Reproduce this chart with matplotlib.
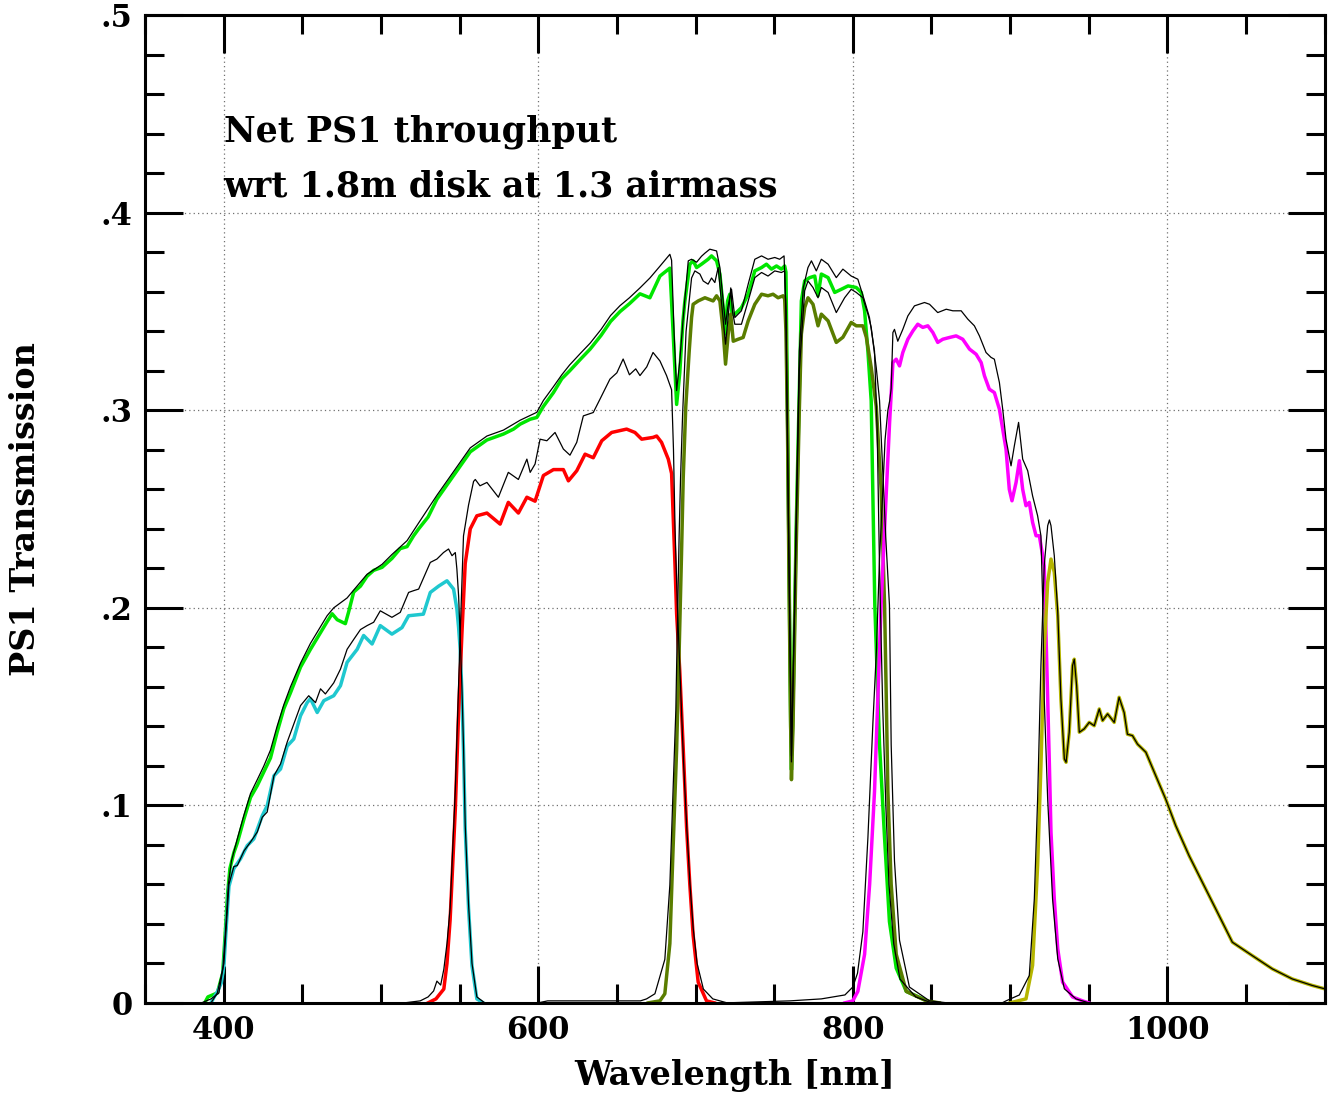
import matplotlib
matplotlib.use("Agg")
import matplotlib.pyplot as plt
from matplotlib.ticker import MultipleLocator, FixedLocator

# ---- data ----
# w band (bright green) and its total (thin black)
w_nm = [388, 390, 396, 399.4, 401, 402.5, 404, 406.5, 408.7, 412.9, 417.1, 421.4, 425.6, 429.8, 434, 438.3,
        442.5, 448.9, 455.2, 460.5, 465.8, 469, 472.2, 477.4, 479.5, 482.7, 487, 491.2, 495.4, 500.7, 507,
        512.3, 516.6, 520.8, 524, 530, 535.6, 546.2, 556.8, 567.4, 577.9, 584.3, 588.5, 594.9, 599.1, 603.3,
        609.7, 615, 620, 627, 633, 640, 646, 652, 658, 664.7, 671, 677.4, 683.7, 685.8, 688, 690, 692,
        693.2, 696.4, 698.5, 700.7, 703.8, 708, 710.2, 713.4, 715.5, 717.6, 718.6, 720.4, 721.8, 723.3, 725,
        729.2, 733.5, 737.7, 742, 745.1, 748.3, 751.5, 754.6, 756.7, 757.5, 758.5, 759.5, 760.5, 761, 762,
        764, 766, 767.3, 769.4, 772.6, 775.8, 777.9, 780, 784.3, 788.5, 792.7, 797, 802.2, 805.4, 807.5,
        809.6, 811.7, 814, 817, 820.2, 823.3, 827.6, 834, 850]
w_T = [0.0, 0.003, 0.005, 0.015, 0.035, 0.055, 0.068, 0.076, 0.081, 0.093, 0.104, 0.110, 0.117, 0.124, 0.137,
       0.149, 0.157, 0.170, 0.179, 0.186, 0.193, 0.197, 0.194, 0.192, 0.198, 0.208, 0.211, 0.216, 0.219,
       0.2205, 0.225, 0.230, 0.231, 0.2365, 0.240, 0.246, 0.255, 0.267, 0.279, 0.285, 0.288, 0.2905, 0.293,
       0.2955, 0.2964, 0.302, 0.309, 0.316, 0.320, 0.326, 0.331, 0.338, 0.345, 0.350, 0.354, 0.359, 0.357,
       0.368, 0.372, 0.339, 0.303, 0.319, 0.345, 0.355, 0.374, 0.3757, 0.3723, 0.374, 0.3765, 0.3782,
       0.3757, 0.369, 0.352, 0.3386, 0.3554, 0.3588, 0.3487, 0.3487, 0.352, 0.3588, 0.3706, 0.3723, 0.374,
       0.3715, 0.3731, 0.3715, 0.3731, 0.37, 0.30, 0.22, 0.14, 0.118, 0.15, 0.24, 0.31, 0.3554, 0.3655,
       0.3672, 0.368, 0.358, 0.369, 0.3672, 0.3597, 0.3613, 0.363, 0.3622, 0.3597, 0.3504, 0.330, 0.3048,
       0.2014, 0.1307, 0.0835, 0.0411, 0.0176, 0.0058, 0.0]

wtot_nm = [386, 392, 397, 399.5, 401.5, 403, 405, 408.7, 412.9, 417.1, 421.4, 425.6, 429.8, 434, 438.3, 442.5,
           448.9, 455.2, 460.5, 465.8, 470, 478.5, 482.7, 491.2, 500.7, 507, 516.6, 524, 535.6, 546.2, 556.8,
           567.4, 577.9, 588.5, 599.1, 603.3, 609.7, 615, 620, 627, 633, 640, 646, 652, 658, 664.7, 671,
           677.4, 683.7, 684.8, 686.4, 688, 690, 692.2, 695.4, 697.5, 700.7, 703.8, 706, 709.1, 713.4, 715.5,
           717.6, 719.1, 720.5, 722.9, 725, 729.2, 733.5, 737.7, 742, 746.1, 750.4, 753.5, 756.3, 757.5, 759,
           761, 763, 766, 768.5, 771.5, 773.7, 776.8, 780, 784.3, 789.5, 793.7, 799, 803.2, 807.5, 810.6,
           813.8, 815.5, 817, 819, 821, 823, 826, 830, 840, 850]
wtot_T = [0.0, 0.002, 0.005, 0.017, 0.04, 0.06, 0.072, 0.083, 0.095, 0.106, 0.113, 0.120, 0.128, 0.140, 0.151,
          0.160, 0.172, 0.182, 0.189, 0.196, 0.200, 0.205, 0.209, 0.217, 0.222, 0.227, 0.234, 0.243, 0.257,
          0.269, 0.281, 0.287, 0.290, 0.295, 0.299, 0.305, 0.312, 0.318, 0.323, 0.329, 0.334, 0.341, 0.348,
          0.353, 0.357, 0.362, 0.367, 0.373, 0.379, 0.376, 0.339, 0.310, 0.325, 0.347, 0.3757, 0.3765, 0.375,
          0.378, 0.3796, 0.3816, 0.3807, 0.3723, 0.3554, 0.3436, 0.352, 0.3613, 0.347, 0.3504, 0.3639,
          0.3765, 0.3782, 0.3765, 0.3774, 0.3765, 0.3782, 0.35, 0.25, 0.125, 0.20, 0.33, 0.362, 0.3723,
          0.3757, 0.3706, 0.3765, 0.374, 0.3672, 0.3715, 0.368, 0.3664, 0.3554, 0.347, 0.33, 0.29, 0.22,
          0.15, 0.10, 0.06, 0.03, 0.012, 0.003, 0.0]

# g band (cyan) and total
g_nm = [392, 394, 396, 398.5, 400.2, 401.8, 403.4, 406.5, 410.8, 415, 419.2, 424.6, 427.7, 432, 436.2, 440.4,
        444.6, 448.9, 453.1, 455.2, 459.5, 463.7, 470, 474.3, 478.5, 484.9, 489, 494.4, 499.6, 507, 513.4,
        517.6, 527, 531.4, 536.7, 542, 546.2, 548.3, 549.4, 550.4, 551.5, 552.5, 553.6, 555.7, 557.9, 561, 565]
g_T = [0.0, 0.003, 0.0056, 0.010, 0.019, 0.040, 0.059, 0.068, 0.073, 0.0796, 0.083, 0.0948, 0.0998, 0.115,
       0.1184, 0.130, 0.1336, 0.1454, 0.152, 0.154, 0.147, 0.153, 0.1555, 0.1606, 0.1724, 0.179, 0.186,
       0.1817, 0.191, 0.1867, 0.190, 0.196, 0.1968, 0.2078, 0.211, 0.2137, 0.2095, 0.1994, 0.19, 0.179,
       0.157, 0.1275, 0.088, 0.048, 0.0187, 0.002, 0.0]

gtot_nm = [392, 396, 400.2, 401.8, 403.4, 406.5, 408.7, 413, 417, 421.4, 424.6, 427.7, 432, 436.2, 440.4, 448.9,
           454.1, 458.4, 461.6, 464.7, 470, 474.3, 478.5, 482.7, 487, 491.2, 495.4, 499.6, 507, 512.3, 517.6,
           520.8, 524, 531.4, 535.6, 539.8, 543, 545.2, 547.3, 548.3, 549.4, 550.4, 551.5, 552.5, 553.6, 555.7,
           557.9, 561, 566]
gtot_T = [0.0, 0.005, 0.020, 0.040, 0.060, 0.069, 0.0695, 0.077, 0.0813, 0.0865, 0.094, 0.0966, 0.115, 0.121,
          0.132, 0.1505, 0.1555, 0.152, 0.159, 0.1564, 0.162, 0.169, 0.179, 0.184, 0.189, 0.191, 0.1927,
          0.1985, 0.1952, 0.1977, 0.2078, 0.2087, 0.2095, 0.223, 0.2247, 0.228, 0.2298, 0.2264, 0.228, 0.2196,
          0.206, 0.185, 0.16, 0.13, 0.09, 0.05, 0.02, 0.003, 0.0]

# r band (red) and total
r_nm = [530, 535, 540, 542, 544, 547.3, 549.4, 551.5, 553.6, 556.8, 561, 567.4, 575.8, 581, 587.4, 592.8, 598,
        603.3, 609.7, 616, 619.2, 624.5, 629.8, 635, 640.4, 646.7, 656.2, 661.5, 665.8, 673, 675.3, 678.4,
        682.7, 684.8, 685.8, 687, 688, 690, 692.2, 694.3, 696.4, 698.5, 701.7, 707, 712]
r_T = [0.0, 0.002, 0.007, 0.020, 0.042, 0.098, 0.147, 0.187, 0.2225, 0.240, 0.2466, 0.248, 0.2424, 0.2534,
       0.248, 0.256, 0.254, 0.267, 0.270, 0.270, 0.2643, 0.2694, 0.2778, 0.276, 0.2846, 0.2888, 0.2905,
       0.2888, 0.2854, 0.2863, 0.287, 0.2838, 0.2753, 0.268, 0.2467, 0.221, 0.197, 0.168, 0.1286, 0.0892,
       0.0597, 0.0342, 0.0105, 0.001, 0.0]

rtot_nm = [515, 525, 530, 533.5, 535.6, 538, 540, 542, 544, 547.3, 550.4, 552.5, 555.7, 558.9, 560, 563, 567.4,
           574.7, 581, 587.4, 592.8, 594.9, 598, 601.2, 605.5, 610.7, 616, 620.2, 624.5, 628.7, 635, 639.3,
           645.6, 650, 654, 658, 662, 664.7, 669, 673, 677.4, 681.6, 684.8, 686, 687, 688.5, 690.5, 692.5,
           694.5, 696.5, 698.5, 701, 705, 711, 720]
rtot_T = [0.0, 0.001, 0.003, 0.006, 0.011, 0.009, 0.017, 0.030, 0.048, 0.108, 0.187, 0.2364, 0.252, 0.264,
          0.265, 0.2618, 0.2635, 0.256, 0.2686, 0.265, 0.2753, 0.2686, 0.2728, 0.2854, 0.2846, 0.2888, 0.2804,
          0.2773, 0.2838, 0.2972, 0.2989, 0.3057, 0.3158, 0.319, 0.326, 0.318, 0.321, 0.3176, 0.322, 0.3293,
          0.325, 0.3176, 0.3104, 0.28, 0.24, 0.20, 0.16, 0.12, 0.088, 0.06, 0.038, 0.02, 0.007, 0.002, 0.0]

# i band (dark olive) and total
i_nm = [670, 677.4, 680.5, 683.7, 685.8, 688, 689.6, 691.1, 692.2, 693.8, 696, 697.5, 698.5, 701.7, 706, 711.2,
        713.4, 715.5, 717.6, 719.1, 720.8, 722.4, 724, 727.1, 730.3, 733.5, 737.7, 742, 746.1, 749.3, 752.5,
        755.7, 756.7, 757.5, 758.5, 759.5, 760.5, 761, 762, 764, 766, 767.3, 769.4, 771.5, 774.7, 777.9, 780,
        784.3, 789.5, 793.7, 799, 802.2, 806.4, 808.6, 811.7, 814.9, 818, 820.2, 821.3, 822.3, 824.4, 827.6,
        834, 846.7, 855]
i_T = [0.0, 0.001, 0.0046, 0.030, 0.0795, 0.1285, 0.178, 0.227, 0.266, 0.3017, 0.330, 0.347, 0.3537, 0.3554,
       0.357, 0.3554, 0.358, 0.3554, 0.340, 0.3234, 0.3386, 0.3487, 0.335, 0.336, 0.3369, 0.3453, 0.3537,
       0.3588, 0.358, 0.3588, 0.357, 0.358, 0.3563, 0.34, 0.29, 0.21, 0.14, 0.113, 0.14, 0.23, 0.30, 0.3386,
       0.352, 0.357, 0.3537, 0.3428, 0.3487, 0.3453, 0.3344, 0.337, 0.3445, 0.3428, 0.3428, 0.337, 0.3217,
       0.302, 0.260, 0.2014, 0.154, 0.107, 0.060, 0.0246, 0.0058, 0.001, 0.0]

itot_nm = [600, 606, 647, 665, 668.9, 674.2, 680.5, 683.7, 685.8, 687.5, 688.3, 689.6, 690.5, 691.8, 694, 697.5,
           699.6, 702.8, 704.9, 708, 710.2, 712.3, 714.4, 716.5, 719.1, 720.5, 722.4, 723.5, 725, 729.2, 733.5,
           737.7, 742, 746.1, 750.4, 754.6, 756.7, 757.5, 759, 761, 763, 766, 769.4, 771.5, 774.7, 777.9, 780,
           784.3, 789.5, 794.8, 799, 802.2, 806.4, 809.6, 811.7, 814.9, 817, 819, 821, 823.3, 824.4, 826.5,
           829.7, 836, 848.8, 860]
itot_T = [0.0, 0.001, 0.001, 0.001, 0.002, 0.0046, 0.022, 0.0597, 0.109, 0.148, 0.1837, 0.2368, 0.266, 0.2978,
          0.34, 0.367, 0.3706, 0.369, 0.3655, 0.3639, 0.367, 0.3647, 0.3723, 0.355, 0.3335, 0.345, 0.362, 0.35,
          0.3436, 0.3436, 0.3554, 0.3672, 0.3698, 0.368, 0.3706, 0.3698, 0.3706, 0.35, 0.25, 0.122, 0.20,
          0.32, 0.3605, 0.3655, 0.3622, 0.357, 0.3622, 0.3597, 0.3495, 0.357, 0.3613, 0.3597, 0.357, 0.3487,
          0.342, 0.3217, 0.305, 0.27, 0.235, 0.2014, 0.1307, 0.0718, 0.0317, 0.008, 0.001, 0.0]

# z band (magenta) and total
z_nm = [795, 800, 803.2, 807.5, 810.7, 813.8, 815.9, 818, 820.5, 823.4, 825.5, 827.6, 829.7, 831.8, 835, 838.2,
        841.3, 844.5, 847.7, 850.9, 854, 857.2, 861.5, 865.7, 869.9, 874.2, 878.4, 881.6, 883.7, 886.8, 890,
        893.2, 895.3, 897.4, 899.5, 901.2, 903.8, 905.9, 908, 910.1, 912.2, 914.3, 916.5, 918.6, 920.7, 921.7,
        922.8, 923.9, 925, 926, 928.1, 930.3, 933.4, 939.7, 946, 950]
z_T = [0.0, 0.001, 0.0058, 0.0246, 0.060, 0.107, 0.154, 0.2014, 0.245, 0.2939, 0.3242, 0.3259, 0.3225, 0.3293,
       0.336, 0.3402, 0.3436, 0.342, 0.3428, 0.3394, 0.3344, 0.336, 0.3369, 0.3377, 0.336, 0.331, 0.3284,
       0.3242, 0.3175, 0.3107, 0.309, 0.3006, 0.2905, 0.2804, 0.260, 0.2542, 0.2635, 0.2745, 0.260, 0.2517,
       0.2534, 0.2433, 0.2365, 0.2365, 0.2264, 0.2213, 0.1876, 0.154, 0.120, 0.0864, 0.0526, 0.0273, 0.0105,
       0.003, 0.001, 0.0]

ztot_nm = [720, 760, 780, 795, 800, 803, 806.4, 809.6, 812.8, 815, 817, 819.1, 820.5, 822.3, 823.5, 824.4, 825.5,
           826.5, 828.6, 831.8, 835, 839.2, 845.6, 848.8, 854, 859.4, 863.6, 868.9, 873.1, 877.3, 880.5, 884.7,
           887.9, 890, 893.2, 895.3, 897.4, 900.6, 902.7, 905.4, 908, 911.2, 914.3, 917.5, 919.6, 920.7, 921.7,
           923.9, 927, 930.3, 934.5, 941.9, 950]
ztot_T = [0.0, 0.001, 0.002, 0.004, 0.008, 0.015, 0.036, 0.0835, 0.142, 0.178, 0.225, 0.260, 0.285, 0.300,
          0.305, 0.311, 0.3394, 0.341, 0.335, 0.341, 0.3478, 0.3529, 0.3546, 0.3537, 0.3495, 0.3512, 0.3504,
          0.3504, 0.3462, 0.3428, 0.3377, 0.3293, 0.3268, 0.3259, 0.3141, 0.3006, 0.2854, 0.2719, 0.282,
          0.2939, 0.2753, 0.2694, 0.2567, 0.2466, 0.2365, 0.2045, 0.154, 0.103, 0.0526, 0.0223, 0.0071,
          0.002, 0.0]

# y band (yellow olive) and total
y_nm = [900, 910.1, 914.3, 917.5, 919.6, 921.7, 923.9, 926, 928.1, 930.3, 932.3, 934.5, 935.6, 937.6, 939.7,
        940.8, 942.3, 944, 947.1, 950.3, 953.5, 956.7, 958.8, 962, 966.2, 969.3, 972.5, 974.6, 977.8, 981,
        986.3, 992.6, 999, 1005.3, 1013.8, 1022.2, 1030.7, 1041.3, 1054, 1066.7, 1079.4, 1092.1, 1100]
y_T = [0.0, 0.002, 0.019, 0.0695, 0.120, 0.179, 0.2129, 0.2247, 0.218, 0.196, 0.154, 0.1235, 0.1218, 0.137,
       0.1707, 0.174, 0.1606, 0.137, 0.1387, 0.142, 0.1403, 0.1488, 0.1429, 0.1463, 0.142, 0.1547, 0.147,
       0.136, 0.1353, 0.131, 0.1269, 0.115, 0.103, 0.0897, 0.0745, 0.0611, 0.0476, 0.0307, 0.0239, 0.0172,
       0.0121, 0.0088, 0.0071]

ytot_nm = [895, 897.4, 905.9, 912.2, 915.4, 917.5, 919.6, 921.7, 923.9, 925, 926, 928.1, 930.3] + y_nm[10:]
ytot_T = [0.0, 0.001, 0.004, 0.0138, 0.0526, 0.103, 0.1707, 0.2213, 0.2416, 0.2445, 0.2416, 0.2264, 0.198] + y_T[10:]

bands = [
    (w_nm, w_T, "#00e600"),
    (g_nm, g_T, "#1fc8cf"),
    (r_nm, r_T, "#ff0000"),
    (i_nm, i_T, "#5a7d00"),
    (z_nm, z_T, "#ff00ff"),
    (y_nm, y_T, "#b5b500"),
]
totals = [(wtot_nm, wtot_T), (gtot_nm, gtot_T), (rtot_nm, rtot_T),
          (itot_nm, itot_T), (ztot_nm, ztot_T), (ytot_nm, ytot_T)]

plt.rcParams["font.family"] = "DejaVu Serif"
plt.rcParams["font.weight"] = "bold"

fig = plt.figure(figsize=(13.3, 10.96), dpi=100)
ax = fig.add_axes([0.109, 0.085, 0.887, 0.901])

for nm, T, col in bands:
    ax.plot(nm, T, color=col, lw=2.5, solid_joinstyle="round")
for nm, T in totals:
    ax.plot(nm, T, color="black", lw=0.9)

ax.set_xlim(350, 1100)
ax.set_ylim(0, 0.5)

ax.xaxis.set_major_locator(MultipleLocator(200))
ax.xaxis.set_minor_locator(MultipleLocator(50))
ax.yaxis.set_major_locator(FixedLocator([0, 0.1, 0.2, 0.3, 0.4, 0.5]))
ax.yaxis.set_minor_locator(MultipleLocator(0.02))
ax.set_yticklabels(["0", ".1", ".2", ".3", ".4", ".5"])

ax.tick_params(which="both", direction="in", top=True, right=True, width=2.2, labelsize=22)
ax.tick_params(which="major", length=27, pad=9)
ax.tick_params(which="minor", length=14)
for sp in ax.spines.values():
    sp.set_linewidth(2.2)

ax.grid(True, which="major", color="#707070", lw=0.9, linestyle=(0, (1, 2.5)))

ax.set_xlabel("Wavelength [nm]", fontsize=24, fontweight="bold", labelpad=9)
ax.set_ylabel("PS1 Transmission", fontsize=24, fontweight="bold", labelpad=42)

ax.text(400, 0.441, "Net PS1 throughput", fontsize=25, va="center", ha="left")
ax.text(400, 0.4135, "wrt 1.8m disk at 1.3 airmass", fontsize=25, va="center", ha="left")

plt.savefig("out.png", dpi=100)
